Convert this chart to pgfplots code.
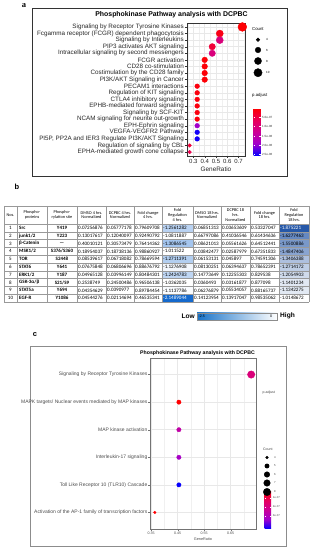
\documentclass[border=0pt]{standalone}
\usepackage{pgfplots}
\pgfplotsset{compat=1.18}
\usepackage{fontspec}
\setmainfont{Liberation Sans}
\newfontfamily\serifbf{Liberation Serif}
\newfontfamily\carlito{Carlito}

\pgfdeclareplotmark{cellA}{\pgfpathrectangle{\pgfpoint{-15.5pt}{-3.9pt}}{\pgfpoint{31pt}{7.8pt}}\pgfusepathqfill}
\pgfdeclareplotmark{cellB}{\pgfpathrectangle{\pgfpoint{-15pt}{-3.9pt}}{\pgfpoint{30pt}{7.8pt}}\pgfusepathqfill}

\pgfplotsset{
  /pgf/number format/assume math mode=true,
  colormap={padj}{rgb255(0cm)=(255,0,0) rgb255(1cm)=(232,0,90) rgb255(2cm)=(205,0,150) rgb255(3cm)=(160,0,205) rgb255(4cm)=(0,0,255)},
  colormap={heatA}{rgb255(0cm)=(20,105,205) rgb255(85cm)=(165,198,238) rgb255(105cm)=(255,255,255)},
  colormap={heatB}{rgb255(0cm)=(38,88,168) rgb255(1cm)=(255,255,255)},
}

\newcommand\tcol[3]{\foreach \v [count=\i] in {#3}{\node[#2] at (#1,{329.9pt-7.8pt*\i}) {\v};}}

\begin{document}
\begin{tikzpicture}
\path[use as bounding box] (0,0) rectangle (316pt,550pt);

% ---------------- panel a ----------------
\draw[black!80, line width=0.6pt] (32pt,542pt) rectangle (287pt,374pt);
\node[font=\serifbf\bfseries\fontsize{8.5}{9}\selectfont, inner sep=0pt] at (24pt,544.5pt) {a};
\node[font=\bfseries\fontsize{6.9}{8}\selectfont, inner sep=0pt] at (171.5pt,535pt) {Phosphokinase Pathway analysis with DCPBC};

\begin{axis}[
  at={(187pt,394pt)}, anchor=south west, scale only axis, width=58pt, height=133pt,
  clip=false,
  xmin=0.2433, xmax=0.7567, ymin=0.4, ymax=20.6, y dir=reverse,
  xtick={0.3,0.4,0.5,0.6,0.7}, xticklabels={0.3,0.4,0.5,0.6,0.7},
  minor xtick={0.25,0.35,0.45,0.55,0.65,0.75},
  ytick={1,...,20},
  yticklabels={Signaling by Receptor Tyrosine Kinases,
    Fcgamma receptor (FCGR) dependent phagocytosis,
    Signaling by Interleukins,
    PIP3 activates AKT signaling,
    Intracellular signaling by second messengers,
    FCGR activation,
    CD28 co-stimulation,
    Costimulation by the CD28 family,
    PI3K/AKT Signaling in Cancer,
    PECAM1 interactions,
    Regulation of KIT signaling,
    CTLA4 inhibitory signaling,
    EPHB-mediated forward signaling,
    Signaling by SCF-KIT,
    NCAM signaling for neurite out-growth,
    EPH-Ephrin signaling,
    VEGFA-VEGFR2 Pathway,
    {PI5P, PP2A and IER3 Regulate PI3K/AKT Signaling},
    Regulation of signaling by CBL,
    EPHA-mediated growth cone collapse},
  xmajorgrids, xminorgrids, ymajorgrids,
  major grid style={black!9, line width=0.45pt},
  minor grid style={black!6, line width=0.25pt},
  axis line style={black!80, line width=0.5pt},
  tick style={black!80, line width=0.4pt},
  major tick length=2pt, minor tick length=0pt, tick align=outside,
  xtick pos=left, ytick pos=left,
  yticklabel style={font=\fontsize{6.3}{7}\selectfont, text=black!85, inner sep=1pt},
  xticklabel style={font=\fontsize{6}{7}\selectfont, text=black!85, inner sep=1.2pt},
  colormap name=padj, colorbar, point meta min=1e-9, point meta max=2.57e-6,
  colorbar style={
    at={([xshift=9pt,yshift=4pt]parent axis.south east)}, anchor=south west,
    scale only axis, width=7pt, height=48pt, y dir=reverse,
    ytick={5e-7,1e-6,1.5e-6,2e-6,2.5e-6},
    yticklabels={5.0e-07,1.0e-06,1.5e-06,2.0e-06,2.5e-06},
    scaled y ticks=false,
    xmajorgrids=false, ymajorgrids=false, xminorgrids=false,
    axis line style={draw=none},
    tick align=inside, ytick pos=both, yticklabel pos=right,
    major tick length=1.4pt, tick style={white, line width=0.4pt},
    yticklabel style={font=\fontsize{3}{3}\selectfont, text=black!80, inner sep=1.5pt},
  },
]
\addplot[scatter, only marks, mark=*, point meta=\thisrow{p},
  scatter/use mapped color={draw=mapped color, fill=mapped color},
  visualization depends on={sqrt(2.3*\thisrow{n}-5.97)\as\rad},
  scatter/@pre marker code/.append style={/tikz/mark size=\rad}]
table[x=r, y=y]{
y r n p
1 0.7333 11 2e-8
2 0.5333 8 1.5e-7
3 0.5333 8 1.0e-6
4 0.4667 7 4e-7
5 0.4667 7 1.0e-6
6 0.4 6 5e-8
7 0.4 6 5e-8
8 0.4 6 5e-8
9 0.4 6 5e-8
10 0.3333 5 1e-7
11 0.3333 5 1e-7
12 0.3333 5 1e-7
13 0.3333 5 1e-7
14 0.3333 5 1e-7
15 0.3333 5 1e-7
16 0.3333 5 1.9e-6
17 0.3333 5 2.5e-6
18 0.3333 5 2.5e-6
19 0.2667 4 4e-7
20 0.2667 4 5.5e-7
};
\end{axis}
\node[font=\fontsize{6.4}{7}\selectfont, text=black!85, inner sep=0pt] at (216pt,380.5pt) {GeneRatio};

% size legend a
\begin{axis}[at={(250pt,472pt)}, anchor=south west, scale only axis, width=30pt, height=43pt,
  xmin=250, xmax=280, ymin=35, ymax=78, y dir=reverse, hide axis, clip=false]
\addplot[scatter, only marks, mark=*, point meta=\thisrow{n},
  scatter/use mapped color={draw=black, fill=black},
  visualization depends on={sqrt(2.3*\thisrow{n}-5.97)\as\rad},
  scatter/@pre marker code/.append style={/tikz/mark size=\rad}]
table[x=x, y=y]{
x y n
258 39.7 4
258 50 6
258 61 8
258 72.7 10
};
\end{axis}
\node[anchor=west, font=\fontsize{4.3}{5}\selectfont, inner sep=0pt] at (252pt,521pt) {Count};
\foreach \t/\yy in {4/510.3, 6/500, 8/489, 10/477.3}
  \node[anchor=west, font=\fontsize{3}{3}\selectfont, inner sep=0pt] at (266pt,\yy pt) {\t};
\node[anchor=west, font=\fontsize{4.3}{5}\selectfont, inner sep=0pt] at (252pt,455pt) {p.adjust};

% ---------------- panel b ----------------
\node[font=\bfseries\fontsize{7.5}{8}\selectfont, inner sep=0pt] at (17pt,363pt) {b};

\begin{axis}[at={(4pt,248pt)}, anchor=south west, scale only axis, width=305pt, height=96pt,
  xmin=4, xmax=309, ymin=206, ymax=302, y dir=reverse, hide axis, clip=false,
  colormap name=heatA, point meta min=-2.15, point meta max=-1.10]
\addplot[scatter, only marks, mark=cellA, point meta=\thisrow{v},
  scatter/use mapped color={draw=none, fill=mapped color}]
table[x=x, y=y]{
x y v
177.5 227.9 -1.2561282
177.5 235.7 -1.0811887
177.5 243.5 -1.3086545
177.5 251.3 -1.011522
177.5 259.1 -1.2711391
177.5 266.9 -1.1276908
177.5 274.7 -1.2424783
177.5 282.5 -1.0362035
177.5 290.3 -1.1137786
177.5 298.1 -2.1489044
};
\end{axis}
\begin{axis}[at={(4pt,248pt)}, anchor=south west, scale only axis, width=305pt, height=96pt,
  xmin=4, xmax=309, ymin=206, ymax=302, y dir=reverse, hide axis, clip=false,
  colormap name=heatB, point meta min=-1.875, point meta max=-1.015]
\addplot[scatter, only marks, mark=cellB, point meta=\thisrow{v},
  scatter/use mapped color={draw=none, fill=mapped color}]
table[x=x, y=y]{
x y v
294 227.9 -1.875221
294 235.7 -1.6277463
294 243.5 -1.5500886
294 251.3 -1.4847406
294 259.1 -1.3406388
294 266.9 -1.2714172
294 274.7 -1.2054903
294 282.5 -1.1401234
294 290.3 -1.1342275
294 298.1 -1.0148672
};
\end{axis}

% table lines
\foreach \x in {4,17,47,77,106,134,162,193,221,250,279,309}
  \draw[black!40, line width=0.35pt] (\x pt,344pt) -- (\x pt,248pt);
\draw[black!40, line width=0.35pt] (4pt,344pt) -- (309pt,344pt);
\foreach \k in {0,...,10}
  \draw[black!40, line width=0.35pt] (4pt,{326pt-7.8pt*\k}) -- (309pt,{326pt-7.8pt*\k});

% header
\begin{scope}[every node/.style={align=center, inner sep=0pt, font=\carlito\fontsize{4.3}{4.9}\selectfont}]
\node at (10.5pt,335pt) {Nos.};
\node at (32pt,335pt) {Phospho-\\proteins};
\node at (62pt,335pt) {Phospho-\\rylation site};
\node at (91.5pt,335pt) {DMSO 4 hrs.\\Normalized};
\node at (120pt,335pt) {DCPBC 4 hrs.\\Normalized};
\node at (148pt,335pt) {Fold change\\4 hrs.};
\node at (177.5pt,335pt) {Fold\\Regulation\\4 hrs.};
\node at (207pt,335pt) {DMSO 18 hrs.\\Normalized};
\node at (235.5pt,335pt) {DCPBC 18\\hrs.\\Normalized};
\node at (264.5pt,335pt) {Fold change\\18 hrs.};
\node at (294pt,335pt) {Fold\\Regulation\\18 hrs.};
\end{scope}

% body
\tcol{10.5pt}{inner sep=0pt, font=\carlito\fontsize{5}{6}\selectfont}{1,2,3,4,5,6,7,8,9,10}
\tcol{19pt}{anchor=west, inner sep=0pt, font=\carlito\bfseries\fontsize{5}{6}\selectfont}{Src,junk1/2,β-Catenin,MSK1/2,TOR,STAT6,ERK1/2,GSK-3α/β,STAT5a,EGF-R}
\tcol{62pt}{inner sep=0pt, font=\carlito\bfseries\fontsize{5}{6}\selectfont}{Y419,Y223,—,S376/S360,S2448,Y641,Y187,S21/S9,Y694,Y1086}
\tcol{78pt}{anchor=west, inner sep=0pt, font=\carlito\fontsize{5.1}{6}\selectfont}{0.07256876,0.13017617,0.40010121,0.18954037,0.08539617,0.07675848,0.04965128,0.2538749,0.04354629,0.04544276}
\tcol{107pt}{anchor=west, inner sep=0pt, font=\carlito\fontsize{5.1}{6}\selectfont}{0.05777178,0.12040097,0.30573479,0.18738136,0.06718082,0.06806696,0.03996149,0.24500486,0.0390977,0.02114694}
\tcol{135pt}{anchor=west, inner sep=0pt, font=\carlito\fontsize{5.1}{6}\selectfont}{0.79609708,0.92490792,0.76414362,0.98860927,0.78669594,0.88676792,0.80484301,0.96506138,0.89784454,0.46535341}
\tcol{163pt}{anchor=west, inner sep=0pt, font=\carlito\fontsize{5.1}{6}\selectfont}{-1.2561282,-1.0811887,-1.3086545,-1.011522,-1.2711391,-1.1276908,-1.2424783,-1.0362035,-1.1137786,{\color{white}-2.1489044}}
\tcol{194pt}{anchor=west, inner sep=0pt, font=\carlito\fontsize{5.1}{6}\selectfont}{0.06851313,0.66797086,0.08621013,0.03842477,0.06153131,0.08130251,0.14773649,0.0360493,0.06276879,0.14123954}
\tcol{222pt}{anchor=west, inner sep=0pt, font=\carlito\fontsize{5.1}{6}\selectfont}{0.03653609,0.41036546,0.05561626,0.02587979,0.045897,0.06394637,0.12255303,0.03161877,0.05534057,0.13917047}
\tcol{251pt}{anchor=west, inner sep=0pt, font=\carlito\fontsize{5.1}{6}\selectfont}{0.53327047,0.61434636,0.64512441,0.67351833,0.74591306,0.78652391,0.829538,0.877098,0.88165737,0.98535062}
\tcol{280pt}{anchor=west, inner sep=0pt, font=\carlito\fontsize{5.1}{6}\selectfont}{{\color{white}-1.875221},-1.6277463,-1.5500886,-1.4847406,-1.3406388,-1.2714172,-1.2054903,-1.1401234,-1.1342275,-1.0148672}

% legend bar
\shade[left color={rgb,255:red,25;green,115;blue,200}, right color=white] (197pt,237.3pt) rectangle (277pt,230pt);
\draw[black!45, line width=0.3pt] (197pt,237.3pt) rectangle (277pt,230pt);
\node[anchor=west, inner sep=0pt, font=\fontsize{3.6}{4}\selectfont] at (198.5pt,233.7pt) {-2.5};
\node[anchor=west, inner sep=0pt, font=\fontsize{3.6}{4}\selectfont] at (270pt,233.7pt) {0};
\node[anchor=east, inner sep=0pt, font=\bfseries\fontsize{6.6}{7}\selectfont] at (195pt,233.7pt) {Low};
\node[anchor=west, inner sep=0pt, font=\bfseries\fontsize{6.6}{7}\selectfont] at (280pt,233.7pt) {High};

% ---------------- panel c ----------------
\node[font=\bfseries\fontsize{7.5}{8}\selectfont, inner sep=0pt] at (35pt,215pt) {c};
\draw[black!45, line width=0.5pt] (30pt,204pt) rectangle (286pt,4pt);
\node[font=\bfseries\fontsize{5.2}{6}\selectfont, inner sep=0pt] at (197.6pt,197.3pt) {Phosphokinase Pathway analysis with DCPBC};

\begin{axis}[
  at={(150pt,21pt)}, anchor=south west, scale only axis, width=106pt, height=171pt,
  clip=false,
  xmin=0.3455, xmax=0.7455, ymin=0.4, ymax=6.6, y dir=reverse,
  xtick={0.35,0.45,0.55,0.65}, xticklabels={0.35,0.45,0.55,0.65},
  minor xtick={0.4,0.5,0.6,0.7},
  ytick={1,...,6},
  yticklabels={Signaling by Receptor Tyrosine Kinases,
    MAPK targets/ Nuclear events mediated by MAP kinases,
    MAP kinase activation,
    Interleukin-17 signaling,
    Toll Like Receptor 10 (TLR10) Cascade,
    Activation of the AP-1 family of transcription factors},
  xmajorgrids, xminorgrids, ymajorgrids,
  major grid style={black!9, line width=0.45pt},
  minor grid style={black!6, line width=0.3pt},
  axis line style={black!55, line width=0.5pt},
  tick style={black!55, line width=0.35pt},
  major tick length=1.5pt, minor tick length=0pt, tick align=outside,
  xtick pos=left, ytick pos=left,
  yticklabel style={font=\fontsize{5}{6}\selectfont, text=black!70, inner sep=1pt},
  xticklabel style={font=\fontsize{3.6}{4}\selectfont, text=black!70, inner sep=1.5pt},
  colormap name=padj, colorbar, point meta min=1.1e-8, point meta max=4.44e-7,
  colorbar style={
    at={([xshift=6.7pt,yshift=92.3pt]parent axis.south east)}, anchor=south west,
    scale only axis, width=6.6pt, height=39pt, y dir=reverse,
    ytick={1e-7,2e-7,3e-7},
    yticklabels={1e-07,2e-07,3e-07},
    scaled y ticks=false,
    xmajorgrids=false, ymajorgrids=false, xminorgrids=false,
    axis line style={draw=none},
    tick align=inside, ytick pos=both, yticklabel pos=right,
    major tick length=1.2pt, tick style={white, line width=0.4pt},
    yticklabel style={font=\fontsize{2.8}{3}\selectfont, text=black!70, inner sep=1.5pt},
  },
]
\addplot[scatter, only marks, mark=*, point meta=\thisrow{p},
  scatter/use mapped color={draw=mapped color, fill=mapped color},
  visualization depends on={sqrt(3*\thisrow{n}-10.3)\as\rad},
  scatter/@pre marker code/.append style={/tikz/mark size=\rad}]
table[x=r, y=y]{
y r n p
1 0.7273 8 1.76e-7
2 0.4545 5 1.2e-8
3 0.4545 5 2.6e-7
4 0.4545 5 3.2e-7
5 0.4545 5 4.4e-7
6 0.3636 4 1.5e-8
};
\end{axis}
\node[font=\fontsize{3.8}{4}\selectfont, text=black!70, inner sep=0pt] at (203pt,10.7pt) {GeneRatio};

% size legend c
\begin{axis}[at={(258pt,54pt)}, anchor=south west, scale only axis, width=24pt, height=43pt,
  xmin=258, xmax=282, ymin=453, ymax=496, y dir=reverse, hide axis, clip=false]
\addplot[scatter, only marks, mark=*, point meta=\thisrow{n},
  scatter/use mapped color={draw=black, fill=black},
  visualization depends on={sqrt(3*\thisrow{n}-10.3)\as\rad},
  scatter/@pre marker code/.append style={/tikz/mark size=\rad}]
table[x=x, y=y]{
x y n
267 457.5 4
267 466 5
267 474.5 6
267 483 7
267 492 8
};
\end{axis}
\node[anchor=west, font=\fontsize{3.5}{4}\selectfont, text=black!75, inner sep=0pt] at (263pt,100.7pt) {Count};
\foreach \t/\yy in {4/92.5, 5/84, 6/75.5, 7/67, 8/58}
  \node[anchor=west, font=\fontsize{2.8}{3}\selectfont, text=black!75, inner sep=0pt] at (274pt,\yy pt) {\t};
\node[anchor=west, font=\fontsize{3.5}{4}\selectfont, text=black!75, inner sep=0pt] at (262.5pt,157pt) {p.adjust};

\end{tikzpicture}
\end{document}
